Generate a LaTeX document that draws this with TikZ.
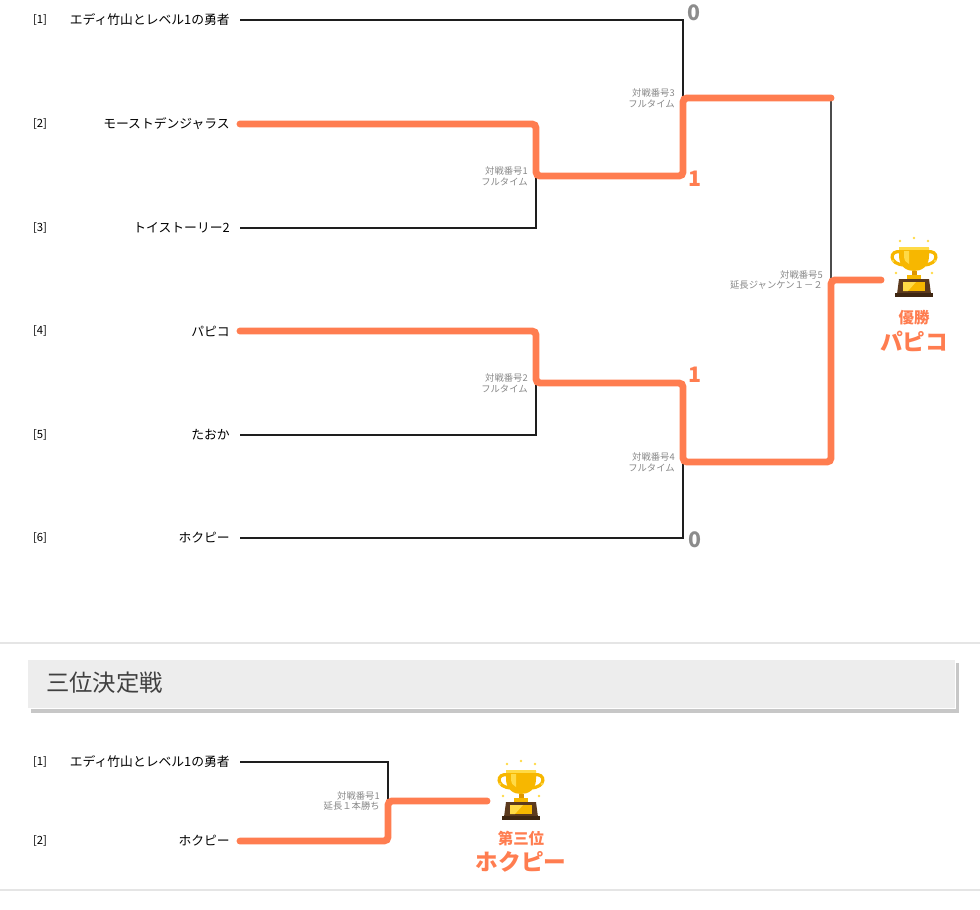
\documentclass[tikz,border=0pt]{standalone}
\usepackage{fontspec}
\setmainfont{Noto Sans CJK JP}
\usetikzlibrary{positioning}
\definecolor{winclr}{RGB}{255,125,80}
\definecolor{loseclr}{RGB}{30,30,30}
\definecolor{lblclr}{RGB}{135,135,135}
\definecolor{scoreclr}{RGB}{140,140,140}
\definecolor{cupgold}{RGB}{247,183,0}
\definecolor{cuplt}{RGB}{255,218,70}
\definecolor{cupdk}{RGB}{222,150,0}
\definecolor{cupbase}{RGB}{92,58,30}
\definecolor{cupbasedk}{RGB}{62,38,18}
\tikzset{
  win/.style={draw=winclr,line width=5.2pt,rounded corners=3pt,line cap=round},
  lose/.style={draw=loseclr,line width=0.8pt},
  seednum/.style={inner sep=0.75pt,font=\fontsize{8.5}{10}\selectfont},
  teamname/.style={inner sep=0.75pt,anchor=east,font=\fontsize{9.6}{11}\selectfont},
  matchlbl/.style={inner sep=0pt,anchor=east,align=right,text=lblclr,font=\fontsize{7}{8}\selectfont},
  score/.style={inner sep=0pt,font=\fontsize{16}{18}\selectfont\bfseries},
  cup/.pic={
    \begin{scope}[yscale=-1]
    % handles
    \draw[cupgold,line width=2.4pt] (-13,-18) .. controls (-25,-21) and (-26,-5) .. (-9,-5);
    \draw[cupgold,line width=2.4pt] (13,-18) .. controls (25,-21) and (26,-5) .. (9,-5);
    % bowl
    \fill[cupgold] (-15,-22) -- (15,-22) -- (15,-14) .. controls (15,-3) and (7,1) .. (0,1) .. controls (-7,1) and (-15,-3) .. (-15,-14) -- cycle;
    \fill[cuplt] (-15,-23) rectangle (15,-20);
    \fill[cuplt] (-10,-19) -- (-5,-19) -- (-5,-6) .. controls (-8,-7) and (-10,-10) .. (-10,-14) -- cycle;
    % stem
    \fill[cupdk] (-2.5,1) rectangle (2.5,6);
    \fill[cupgold] (-7,5) rectangle (7,9);
    % base
    \fill[cupbase] (-15,9) -- (15,9) -- (17,24) -- (-17,24) -- cycle;
    \fill[cupgold] (-11,12) rectangle (11,21);
    \fill[cuplt] (-11,12) -- (2,12) -- (-6,21) -- (-11,21) -- cycle;
    \fill[cupbasedk] (-19,23) rectangle (19,27);
    % sparkles
    \foreach \p in {(-14,-29),(0,-32),(14,-29),(-21,-9),(21,-9),(-18,3),(18,3)}
      \fill[cuplt] \p circle (1.4);
    \end{scope}
  }
}

\begin{document}
\begin{tikzpicture}[x=0.75pt,y=0.75pt,yscale=-1,xscale=1]
\useasboundingbox (0,0) rectangle (980,909);

% Seeds
\foreach \i/\y in {1/20,2/124,3/228,4/331,5/435,6/538}
  \node[seednum] (n\i) at (40,\y) {[\i]};
\node[teamname] (t1) at (231,20) {エディ竹山とレベル1の勇者};
\node[teamname] (t2) at (231,124) {モーストデンジャラス};
\node[teamname] (t3) at (231,228) {トイストーリー2};
\node[teamname] (t4) at (231,331) {パピコ};
\node[teamname] (t5) at (231,435) {たおか};
\node[teamname] (t6) at (231,538) {ホクピー};
\foreach \i/\y in {1/20,2/124,3/228,4/331,5/435,6/538}
  \coordinate (s\i) at (240,\y);

% Joints
\coordinate (j1) at (536,176);
\coordinate (j2) at (536,383);
\coordinate (j3) at (683,98);
\coordinate (j4) at (683,462);
\coordinate (j5top) at (831,98);
\coordinate (j5) at (831,280);
\coordinate (champ) at (881,280);

% Losing lines
\draw[lose] (s1) -| (j3);
\draw[lose] (s3) -| (j1);
\draw[lose] (s5) -| (j2);
\draw[lose] (s6) -| (j4);
\draw[lose,draw=black!70,line width=1.1pt] (j5top) -- (j5);

% Winning lines
\draw[win] (s2) -| (j1) -| (j3) -- (j5top);
\draw[win] (s4) -| (j2) -| (j4) -| (j5) -- (champ);

% Match labels
\node[matchlbl,left=6pt of j1] (m1) {対戦番号1\\フルタイム};
\node[matchlbl,left=6pt of j2] (m2) {対戦番号2\\フルタイム};
\node[matchlbl,left=6pt of j3] (m3) {対戦番号3\\フルタイム};
\node[matchlbl,left=6pt of j4] (m4) {対戦番号4\\フルタイム};
\node[matchlbl,left=6pt of j5] (m5) {対戦番号5\\延長ジャンケン１－２};

% Scores
\node[score,text=scoreclr] (sc1) at (694,13) {0};
\node[score,text=winclr] (sc2) at (695,179) {1};
\node[score,text=winclr] (sc3) at (695,375) {1};
\node[score,text=scoreclr] (sc4) at (695,540) {0};

% Champion
\pic at (914,270) {cup};
\node[inner sep=0pt,text=winclr,font=\fontsize{11.6}{13}\selectfont\bfseries] (wlbl) at (914,318) {優勝};
\node[inner sep=0pt,text=winclr,font=\fontsize{17}{19}\selectfont\bfseries] (wname) at (914,341) {パピコ};

% Dividers and header
\draw[black!10,line width=1.5pt] (0,643) -- (980,643);
\fill[black!22] (31,663) rectangle (959,713);
\draw[white,fill=black!7,line width=0.75pt] (27,659) rectangle (955,708);
\node[anchor=west,inner sep=0pt,text=black!75,font=\fontsize{17.5}{20}\selectfont] (title) at (46,683) {三位決定戦};
\draw[black!10,line width=1.5pt] (0,890) -- (980,890);

% Third place
\node[seednum] (p1) at (40,762) {[1]};
\node[seednum] (p2) at (40,841) {[2]};
\node[teamname] (u1) at (231,762) {エディ竹山とレベル1の勇者};
\node[teamname] (u2) at (231,841) {ホクピー};
\coordinate (r1) at (240,762);
\coordinate (r2) at (240,841);
\coordinate (k1) at (388,801);
\coordinate (third) at (487,801);
\draw[lose] (r1) -| (k1);
\draw[win] (r2) -| (k1) -- (third);
\node[matchlbl,left=6pt of k1] (q1) {対戦番号1\\延長１本勝ち};

\pic at (521,793) {cup};
\node[inner sep=0pt,text=winclr,font=\fontsize{11.6}{13}\selectfont\bfseries] (tlbl) at (521,839) {第三位};
\node[inner sep=0pt,text=winclr,font=\fontsize{17}{19}\selectfont\bfseries] (tname) at (521,862) {ホクピー};

\end{tikzpicture}
\end{document}
